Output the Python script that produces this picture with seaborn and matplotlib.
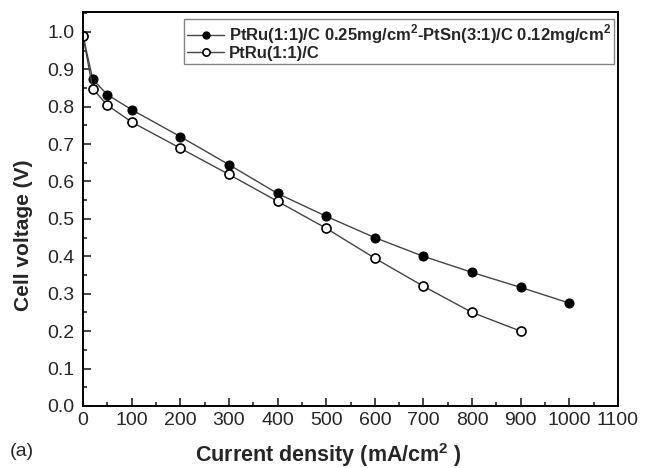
import seaborn as sns
import matplotlib.pyplot as plt
import pandas as pd
from matplotlib.ticker import MultipleLocator

# current density (mA/cm2) and cell voltage (V)
current_ptsn = [0, 20, 50, 100, 200, 300, 400, 500, 600, 700, 800, 900, 1000]
voltage_ptsn = [0.99, 0.873, 0.832, 0.792, 0.72, 0.645, 0.568, 0.507, 0.45, 0.40, 0.357, 0.317, 0.275]
current_ptru = [0, 20, 50, 100, 200, 300, 400, 500, 600, 700, 800, 900]
voltage_ptru = [0.99, 0.848, 0.804, 0.759, 0.689, 0.619, 0.547, 0.475, 0.395, 0.32, 0.25, 0.20]

label_ptsn = 'PtRu(1:1)/C 0.25mg/cm$^\\mathbf{2}$-PtSn(3:1)/C 0.12mg/cm$^\\mathbf{2}$'
label_ptru = 'PtRu(1:1)/C'

sns.set_style('ticks')
plt.rcParams['font.family'] = ['Liberation Sans', 'DejaVu Sans']
plt.rcParams['mathtext.fontset'] = 'custom'
plt.rcParams['mathtext.bf'] = 'Liberation Sans:bold'
plt.rcParams['mathtext.rm'] = 'Liberation Sans'

df1 = pd.DataFrame({'x': current_ptsn, 'y': voltage_ptsn})
df2 = pd.DataFrame({'x': current_ptru, 'y': voltage_ptru})

fig = plt.figure(figsize=(6.49, 4.68), dpi=100)
ax = fig.add_axes([83/649, 62/468, 535/649, 394/468])

sns.lineplot(data=df1, x='x', y='y', ax=ax, color='#444444', lw=1,
             marker='o', markersize=6.5, markerfacecolor='black', markeredgecolor='black',
             label=label_ptsn)
sns.lineplot(data=df2, x='x', y='y', ax=ax, color='#444444', lw=1,
             marker='o', markersize=6.5, markerfacecolor='white', markeredgecolor='black',
             markeredgewidth=1.2, label=label_ptru)

ax.set_xlim(0, 1100)
ax.set_ylim(0, 1.053)
ax.xaxis.set_major_locator(MultipleLocator(100))
ax.xaxis.set_minor_locator(MultipleLocator(50))
ax.yaxis.set_major_locator(MultipleLocator(0.1))
ax.yaxis.set_minor_locator(MultipleLocator(0.05))
ax.set_yticklabels([f'{v:.1f}' for v in ax.get_yticks()])
ax.tick_params(which='major', direction='in', length=6, width=1.2, labelsize=14, pad=4,
               top=False, right=False)
ax.tick_params(which='minor', direction='in', length=3, width=1.2, top=False, right=False)
ax.tick_params(axis='y', which='major', pad=6)
for s in ax.spines.values():
    s.set_linewidth(1.4)
    s.set_color('black')

ax.set_xlabel('Current density (mA/cm$^\\mathbf{2}$ )', fontsize=15.5, fontweight='bold')
ax.set_ylabel('Cell voltage (V)', fontsize=15, fontweight='bold')
ax.xaxis.set_label_coords(0.458, -0.088)
ax.yaxis.set_label_coords(-0.093, 0.434)

leg = ax.legend(loc='upper right', bbox_to_anchor=(0.993, 0.982), frameon=True, fancybox=False,
                prop={'weight': 'bold', 'size': 12}, handlelength=2.2, handletextpad=0.3,
                borderpad=0.2, labelspacing=0.0, borderaxespad=0, markerscale=0.8)
leg.get_frame().set_edgecolor('#666666')
leg.get_frame().set_linewidth(1.0)

fig.text(10/649, 1 - 452/468, '(a)', fontsize=14, va='center')

fig.savefig('out.png', dpi=100)
